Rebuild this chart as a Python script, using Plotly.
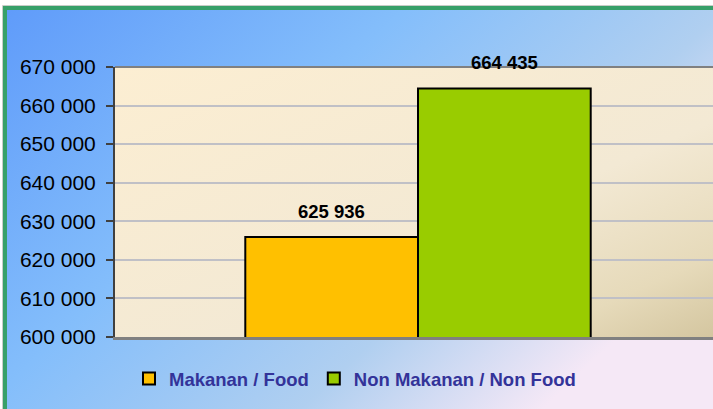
import base64
import plotly.graph_objects as go

# ---- data ----
categories = ["Makanan / Food", "Non Makanan / Non Food"]
values = [625936, 664435]
bar_colors = ["#FFC000", "#99CC00"]
y_ticks = [600000, 610000, 620000, 630000, 640000, 650000, 660000, 670000]

W, H = 713, 409
ML, MR, MT, MB = 115, 0, 67, 72
PW, PH = W - ML - MR, H - MT - MB


def px_x(p):
    return (p - ML) / PW


def px_y(p):
    return (H - MB - p) / PH


def svg_uri(stops, x2, y2):
    st = "".join(
        f'<stop offset="{o}" stop-color="rgb({c[0]},{c[1]},{c[2]})"/>' for o, c in stops
    )
    svg = (
        '<svg xmlns="http://www.w3.org/2000/svg" width="100" height="100" '
        'viewBox="0 0 100 100" preserveAspectRatio="none">'
        f'<defs><linearGradient id="g" x1="0" y1="0" x2="{x2}" y2="{y2}">{st}</linearGradient></defs>'
        '<rect x="0" y="0" width="100" height="100" fill="url(#g)"/></svg>'
    )
    return "data:image/svg+xml;base64," + base64.b64encode(svg.encode()).decode()


paper_grad = svg_uri(
    [(0, (95, 155, 250)), (0.42, (132, 190, 251)), (0.75, (176, 207, 240)), (1, (245, 232, 246))],
    1, 0.6,
)
plot_grad = svg_uri(
    [(0, (252, 238, 210)), (0.6, (243, 233, 212)), (0.85, (230, 218, 186)), (1, (212, 198, 160))],
    1, 1,
)

bargap = 0.43
bar_w = (1 - bargap) / len(categories)

fig = go.Figure()
for i, (name, v, c) in enumerate(zip(categories, values, bar_colors)):
    fig.add_trace(
        go.Bar(
            x=[0], y=[v], name=name,
            marker=dict(color=c, line=dict(color="black", width=2)),
            hoverinfo="skip",
        )
    )

annotations = []
for i, v in enumerate(values):
    xc = -0.5 * (1 - bargap) + bar_w * (i + 0.5)
    annotations.append(
        dict(
            x=xc, y=v, xref="x", yref="y", text=f"{v:,}".replace(",", " "),
            showarrow=False, yanchor="bottom", yshift=13,
            font=dict(family="Arial, Liberation Sans", size=18.5, color="black", weight="bold"),
        )
    )

fig.update_layout(
    width=W, height=H,
    margin=dict(l=ML, r=MR, t=MT, b=MB, pad=0),
    paper_bgcolor="white",
    plot_bgcolor="rgba(0,0,0,0)",
    barmode="group", bargap=bargap, bargroupgap=0,
    separators=". ",
    showlegend=True,
    legend=dict(
        orientation="h", x=px_x(129), y=px_y(360), xanchor="left", yanchor="top",
        font=dict(family="Arial, Liberation Sans", size=18.5, color="#333399", weight="bold"),
        bgcolor="rgba(0,0,0,0)", itemwidth=30, traceorder="normal",
    ),
    annotations=annotations,
    images=[
        dict(source=paper_grad, xref="paper", yref="paper",
             x=px_x(3), y=px_y(7), sizex=(W - 3) / PW, sizey=(H - 7) / PH,
             sizing="stretch", xanchor="left", yanchor="top", layer="below"),
        dict(source=plot_grad, xref="paper", yref="paper",
             x=0, y=1, sizex=1, sizey=1,
             sizing="stretch", xanchor="left", yanchor="top", layer="below"),
    ],
    shapes=[
        dict(type="rect", xref="paper", yref="paper",
             x0=px_x(2.5), y0=px_y(5.5), x1=px_x(W + 20), y1=px_y(H + 20),
             line=dict(color="rgb(200,205,200)", width=1), layer="above"),
        dict(type="rect", xref="paper", yref="paper",
             x0=px_x(5), y0=px_y(8), x1=px_x(W + 20), y1=px_y(H + 20),
             line=dict(color="rgb(55,160,105)", width=4), layer="above"),
        dict(type="line", xref="paper", yref="paper",
             x0=0, y0=1, x1=1, y1=1,
             line=dict(color="rgb(128,128,128)", width=2), layer="below"),
    ],
    xaxis=dict(
        range=[-0.5, -0.5 + PW / 606], showticklabels=False, ticks="",
        showgrid=False, zeroline=False,
        showline=True, linecolor="rgb(128,128,128)", linewidth=3,
        fixedrange=True,
    ),
    yaxis=dict(
        range=[600000, 670000], tickvals=y_ticks, tickformat=",d",
        tickfont=dict(family="Arial, Liberation Sans", size=21, color="black"),
        ticks="outside", ticklen=7, tickwidth=2, tickcolor="rgb(64,64,64)",
        ticklabelstandoff=6,
        showgrid=True, gridcolor="rgb(192,192,198)", gridwidth=2,
        zeroline=False,
        showline=True, linecolor="rgb(64,64,64)", linewidth=2,
        fixedrange=True,
    ),
)

fig.write_html(
    "out.html",
    config={"displayModeBar": False, "staticPlot": True},
    post_script="document.body.style.margin='0px';document.body.style.overflow='hidden';",
)
